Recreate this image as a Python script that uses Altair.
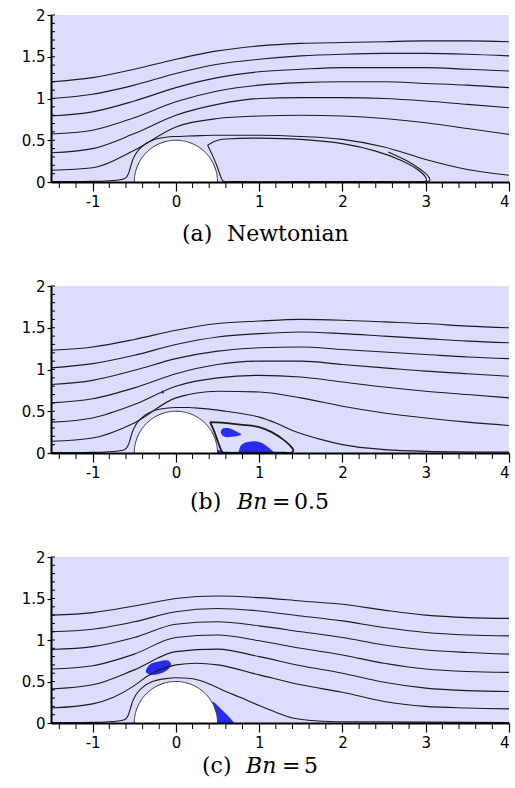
import altair as alt
import numpy as np
import pandas as pd

BG = "#dcdcfc"
BLUE = "#2a2af2"
INK = "#1c1c1c"

X_GRID = [-1.5, -1.0, -0.5, 0.0, 0.5, 1.0, 1.5, 2.0, 2.5, 3.0, 3.5, 4.0]
X_MAJOR = [-1, 0, 1, 2, 3, 4]
Y_MAJOR = [0, 0.5, 1, 1.5, 2]
X_MINOR = [-1.4, -1.2, -0.8, -0.6, -0.4, -0.2, 0.2, 0.4, 0.6, 0.8, 1.2, 1.4, 1.6, 1.8,
           2.2, 2.4, 2.6, 2.8, 3.2, 3.4, 3.6, 3.8]
Y_INNER = [0.1, 0.2, 0.3, 0.4, 0.5, 0.6, 0.7, 0.8, 0.9, 1.0, 1.1, 1.2, 1.3, 1.4, 1.5,
           1.6, 1.7, 1.8, 1.9, 2.0]
CYL_R = 0.5

# ---------------- panel (a) Newtonian ----------------
A_L1 = [1.20, 1.25, 1.35, 1.47, 1.57, 1.63, 1.66, 1.67, 1.68, 1.69, 1.69, 1.68]
A_L2 = [1.00, 1.05, 1.16, 1.30, 1.41, 1.47, 1.51, 1.53, 1.54, 1.54, 1.53, 1.51]
A_L3 = [0.79, 0.84, 0.97, 1.13, 1.25, 1.32, 1.35, 1.37, 1.37, 1.37, 1.35, 1.33]
A_L4 = [0.575, 0.62, 0.77, 0.96, 1.09, 1.16, 1.19, 1.20, 1.20, 1.18, 1.16, 1.13]
A_L5 = [0.35, 0.40, 0.58, 0.80, 0.93, 1.00, 1.01, 1.01, 1.00, 0.97, 0.93, 0.89]
A_L6 = [0.14, 0.17, 0.38, 0.66, 0.76, 0.79, 0.80, 0.79, 0.76, 0.71, 0.64, 0.57]
A_L7_X = [-1.5, -1.0, -0.8, -0.62, -0.57, -0.545, -0.52, -0.48, -0.4, -0.28, -0.12, 0.0,
          0.15, 0.3, 0.45, 0.7, 1.0, 1.5, 2.0, 2.5, 3.0, 3.5, 4.0]
A_L7_Y = [0.005, 0.008, 0.015, 0.04, 0.10, 0.18, 0.26, 0.34, 0.43, 0.50, 0.535, 0.545,
          0.55, 0.555, 0.56, 0.56, 0.56, 0.545, 0.51, 0.42, 0.27, 0.15, 0.08]
A_BUB_X = [0.38, 0.5, 0.7, 1.0, 1.5, 2.0, 2.4, 2.7, 2.9, 2.99, 3.01, 2.95, 2.5, 1.5,
           0.7, 0.57, 0.54, 0.49, 0.43, 0.38]
A_BUB_Y = [0.44, 0.50, 0.52, 0.525, 0.51, 0.46, 0.37, 0.26, 0.15, 0.07, 0.015, 0.004,
           0.004, 0.004, 0.004, 0.01, 0.06, 0.2, 0.34, 0.44]
A_TAIL_X = [2.55, 2.8, 2.95, 3.03, 3.05, 3.02, 2.9]
A_TAIL_Y = [0.36, 0.24, 0.14, 0.07, 0.02, 0.004, 0.002]

# ---------------- panel (b) Bn = 0.5 ----------------
B_L1 = [1.23, 1.27, 1.36, 1.47, 1.55, 1.58, 1.60, 1.59, 1.57, 1.55, 1.52, 1.50]
B_L2 = [1.02, 1.07, 1.17, 1.30, 1.39, 1.43, 1.45, 1.43, 1.40, 1.37, 1.34, 1.32]
B_L3 = [0.82, 0.87, 0.99, 1.13, 1.22, 1.26, 1.27, 1.24, 1.21, 1.18, 1.15, 1.13]
B_L4 = [0.60, 0.65, 0.78, 0.95, 1.06, 1.10, 1.10, 1.06, 1.02, 0.98, 0.95, 0.92]
B_L5 = [0.37, 0.42, 0.58, 0.80, 0.90, 0.93, 0.91, 0.85, 0.79, 0.74, 0.70, 0.66]
B_L6 = [0.14, 0.18, 0.36, 0.66, 0.74, 0.73, 0.66, 0.56, 0.48, 0.42, 0.37, 0.33]
B_L7_X = [-1.5, -1.0, -0.8, -0.62, -0.57, -0.545, -0.52, -0.48, -0.4, -0.28, -0.12, 0.0,
          0.15, 0.3, 0.45, 0.6, 0.8, 1.0, 1.2, 1.4, 1.75, 2.0, 2.5, 3.0, 4.0]
B_L7_Y = [0.005, 0.008, 0.015, 0.04, 0.10, 0.18, 0.26, 0.34, 0.43, 0.50, 0.535, 0.545,
          0.545, 0.535, 0.52, 0.50, 0.47, 0.43, 0.36, 0.27, 0.16, 0.10, 0.04, 0.02, 0.01]
B_BUB_X = [0.41, 0.55, 0.77, 1.0, 1.15, 1.29, 1.37, 1.41, 1.39, 1.3, 0.9, 0.6, 0.56,
           0.51, 0.46, 0.41]
B_BUB_Y = [0.37, 0.365, 0.34, 0.31, 0.25, 0.16, 0.09, 0.03, 0.005, 0.004, 0.004, 0.004,
           0.01, 0.12, 0.26, 0.37]
B_BLOB1_X = [0.54, 0.57, 0.62, 0.67, 0.72, 0.78]
B_BLOB1_TOP = [0.265, 0.295, 0.30, 0.285, 0.26, 0.23]
B_BLOB1_BOT = [0.24, 0.20, 0.19, 0.195, 0.20, 0.215]
B_BLOB2_X = [0.75, 0.78, 0.85, 0.95, 1.05, 1.12, 1.19]
B_BLOB2_TOP = [0.0, 0.09, 0.13, 0.14, 0.11, 0.06, 0.0]
B_BLOB2_BOT = [0.0, 0.0, 0.0, 0.0, 0.0, 0.0, 0.0]
B_BLOB3_X = [0.5, 0.53, 0.56]
B_BLOB3_TOP = [0.04, 0.03, 0.0]
B_BLOB3_BOT = [0.0, 0.0, 0.0]
B_DOT_X = [-0.16]
B_DOT_Y = [0.73]

# ---------------- panel (c) Bn = 5 ----------------
C_L1 = [1.30, 1.33, 1.41, 1.50, 1.53, 1.51, 1.47, 1.43, 1.36, 1.30, 1.27, 1.26]
C_L2 = [1.10, 1.13, 1.22, 1.34, 1.38, 1.35, 1.29, 1.23, 1.15, 1.09, 1.06, 1.05]
C_L3 = [0.885, 0.92, 1.03, 1.19, 1.22, 1.17, 1.10, 1.03, 0.94, 0.88, 0.85, 0.83]
C_L4 = [0.65, 0.69, 0.83, 1.03, 1.06, 0.99, 0.90, 0.82, 0.72, 0.65, 0.62, 0.61]
C_L5 = [0.41, 0.46, 0.64, 0.86, 0.89, 0.80, 0.69, 0.60, 0.49, 0.42, 0.39, 0.38]
C_L6_X = [-1.5, -1.0, -0.75, -0.5, -0.35, -0.2, 0.0, 0.25, 0.5, 1.0, 1.5, 2.0, 2.5, 3.0, 3.5, 4.0]
C_L6_Y = [0.18, 0.23, 0.31, 0.45, 0.56, 0.64, 0.70, 0.72, 0.70, 0.58, 0.46, 0.37, 0.26, 0.20, 0.18, 0.17]
C_L7_X = [-1.5, -1.0, -0.8, -0.62, -0.57, -0.545, -0.52, -0.48, -0.4, -0.28, -0.12, 0.0,
          0.15, 0.3, 0.45, 0.6, 0.77, 1.0, 1.2, 1.4, 1.7, 2.0, 3.0, 4.0]
C_L7_Y = [0.005, 0.008, 0.015, 0.04, 0.10, 0.18, 0.26, 0.34, 0.43, 0.50, 0.535, 0.545,
          0.54, 0.51, 0.45, 0.38, 0.31, 0.21, 0.13, 0.06, 0.025, 0.015, 0.01, 0.005]
C_BLOB1_X = [-0.36, -0.32, -0.26, -0.19, -0.13, -0.09, -0.06]
C_BLOB1_TOP = [0.64, 0.70, 0.73, 0.745, 0.755, 0.75, 0.72]
C_BLOB1_BOT = [0.61, 0.585, 0.58, 0.595, 0.62, 0.65, 0.69]
C_BLOB2_X = [0.44, 0.47, 0.5, 0.55, 0.6, 0.65, 0.70]
C_BLOB2_TOP = [0.26, 0.24, 0.21, 0.16, 0.11, 0.06, 0.0]
C_BLOB2_BOT = [0.24, 0.17, 0.0, 0.0, 0.0, 0.0, 0.0]

CAP_A = ["(a)", "Newtonian"]
CAP_B = ["(b)", "Bn", "=", "0.5"]
CAP_C = ["(c)", "Bn", "=", "5"]


def streams_df(lines):
    rows = []
    for k, (xs, ys) in enumerate(lines):
        for x, y in zip(xs, ys):
            rows.append({"x": x, "y": y, "id": k})
    return pd.DataFrame(rows)


def loops_df(loops):
    rows = []
    for k, (xs, ys) in enumerate(loops):
        for i, (x, y) in enumerate(zip(xs, ys)):
            rows.append({"x": x, "y": y, "i": i, "id": k})
    return pd.DataFrame(rows, columns=["x", "y", "i", "id"])


def blobs_df(blobs):
    rows = []
    for k, (xs, tops, bots) in enumerate(blobs):
        for x, t, b in zip(xs, tops, bots):
            rows.append({"x": x, "top": t, "bot": b, "id": k})
    return pd.DataFrame(rows, columns=["x", "top", "bot", "id"])


ang = np.linspace(0, np.pi, 121)
cyl_df = pd.DataFrame({"x": CYL_R * np.cos(ang), "y": CYL_R * np.sin(ang), "y0": 0.0})

XS = alt.Scale(domain=[-1.5, 4.0], nice=False, zero=False)
YS = alt.Scale(domain=[0.0, 2.0], nice=False, zero=False)

X_AXIS = alt.Axis(values=X_MAJOR, labelExpr="'' + datum.value", title=None, grid=False,
                  domainColor="black", domainWidth=2, tickColor="black", tickWidth=1.2,
                  tickSize=9, labelPadding=3, labelFont="DejaVu Sans", labelFontSize=15,
                  labelColor="black", labelOverlap=False, zindex=1)
Y_AXIS = alt.Axis(values=Y_MAJOR, labelExpr="'' + datum.value", title=None, grid=False,
                  domainColor="black", domainWidth=2, tickColor="black", tickWidth=1.2,
                  tickSize=4, labelPadding=2, labelFont="DejaVu Sans", labelFontSize=15,
                  labelColor="black", labelOverlap=False, zindex=1)


def xe(field):
    return alt.X(field, type="quantitative", scale=XS, axis=X_AXIS)


def ye(field):
    return alt.Y(field, type="quantitative", scale=YS, axis=Y_AXIS)


def panel(H, lines, loops, bubble_w, blobs, dots, caption, cap_x, italic_idx, cap_y):
    layers = []
    bdf = blobs_df(blobs)
    if len(bdf):
        layers.append(alt.Chart(bdf).mark_area(interpolate="monotone", color=BLUE, opacity=1).encode(
            x=xe("x"), y=ye("top"), y2="bot:Q", detail="id:N"))
    layers.append(alt.Chart(cyl_df).mark_area(color="white", interpolate="linear").encode(
        x=xe("x"), y=ye("y"), y2="y0:Q"))
    layers.append(alt.Chart(cyl_df).mark_line(color="#333333", strokeWidth=1).encode(
        x=xe("x"), y=ye("y")))
    layers.append(alt.Chart(streams_df(lines)).mark_line(
        interpolate="monotone", color=INK, strokeWidth=1.1, clip=True).encode(
        x=xe("x"), y=ye("y"), detail="id:N"))
    if loops:
        layers.append(alt.Chart(loops_df(loops)).mark_line(
            interpolate="catmull-rom", color=INK, strokeWidth=bubble_w, clip=True).encode(
            x=xe("x"), y=ye("y"), order="i:Q", detail="id:N"))
    if dots:
        layers.append(alt.Chart(pd.DataFrame({"x": dots[0], "y": dots[1]})).mark_circle(
            size=9, color=BLUE, opacity=1).encode(x=xe("x"), y=ye("y")))
    # minor ticks
    layers.append(alt.Chart(pd.DataFrame({"v": X_MINOR})).mark_rule(color="black", strokeWidth=1).encode(
        x=xe("v"), y=alt.value(H), y2=alt.value(H + 6)))
    layers.append(alt.Chart(pd.DataFrame({"v": Y_INNER})).mark_rule(color="black", strokeWidth=1).encode(
        y=ye("v"), x=alt.value(0), x2=alt.value(4)))
    # caption
    for k, (seg, px) in enumerate(zip(caption, cap_x)):
        layers.append(alt.Chart(pd.DataFrame({"t": [seg]})).mark_text(
            font="DejaVu Serif", fontSize=22, align="left", baseline="alphabetic",
            color="black", fontStyle="italic" if k in italic_idx else "normal").encode(
            text="t:N", x=alt.value(px), y=alt.value(cap_y)))
    return alt.layer(*layers).properties(width=458, height=H)


pa = panel(167,
           [(X_GRID, A_L1), (X_GRID, A_L2), (X_GRID, A_L3), (X_GRID, A_L4), (X_GRID, A_L5),
            (X_GRID, A_L6), (A_L7_X, A_L7_Y)],
           [(A_BUB_X, A_BUB_Y), (A_TAIL_X, A_TAIL_Y)], 1.1, [], None,
           CAP_A, [131, 176], [], 226)
pb = panel(167,
           [(X_GRID, B_L1), (X_GRID, B_L2), (X_GRID, B_L3), (X_GRID, B_L4), (X_GRID, B_L5),
            (X_GRID, B_L6), (B_L7_X, B_L7_Y)],
           [(B_BUB_X, B_BUB_Y)], 1.8,
           [(B_BLOB1_X, B_BLOB1_TOP, B_BLOB1_BOT), (B_BLOB2_X, B_BLOB2_TOP, B_BLOB2_BOT),
            (B_BLOB3_X, B_BLOB3_TOP, B_BLOB3_BOT)],
           (B_DOT_X, B_DOT_Y),
           CAP_B, [139, 186, 221, 243], [1], 222.5)
pc = panel(166,
           [(X_GRID, C_L1), (X_GRID, C_L2), (X_GRID, C_L3), (X_GRID, C_L4), (X_GRID, C_L5),
            (C_L6_X, C_L6_Y), (C_L7_X, C_L7_Y)],
           [], 1.0,
           [(C_BLOB1_X, C_BLOB1_TOP, C_BLOB1_BOT), (C_BLOB2_X, C_BLOB2_TOP, C_BLOB2_BOT)],
           None,
           CAP_C, [151, 195, 231, 253], [1], 216)

chart = alt.vconcat(pa, pb, pc, spacing=104, bounds="flush").configure_view(
    fill=BG, strokeWidth=0).properties(
    padding={"left": 21, "top": 8, "right": 2, "bottom": 2}, background="white")

chart.save("out.html", embed_options={"renderer": "svg", "actions": False})
